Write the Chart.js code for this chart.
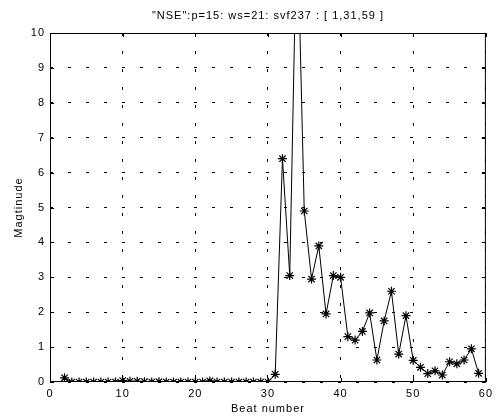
<!DOCTYPE html>
<html>
<head>
<meta charset="utf-8">
<script src="https://cdn.jsdelivr.net/npm/chart.js@4.4.1/dist/chart.umd.min.js"></script>
<style>
  html, body { margin: 0; padding: 0; background: #fff; }
  #wrap { width: 498px; height: 418px; }
</style>
</head>
<body>
<div id="wrap"><canvas id="c"></canvas></div>
<script>
const beats = [2,3,4,5,6,7,8,9,10,11,12,13,14,15,16,17,18,19,20,21,22,23,24,25,26,27,28,29,30,
  31,32,33,34,35,36,37,38,39,40,41,42,43,44,45,46,47,48,49,50,51,52,53,54,55,56,57,58,59];
const magnitude = [0.12,0,0,0,0,0,0,0,0.04,0.02,0.02,0.01,0,0.01,0,0,0,0,0,0,0.03,0,0,0,0,0,0,0,0,
  0.22,6.4,3.05,13.5,4.9,2.95,3.9,1.95,3.05,3.0,1.3,1.2,1.45,1.98,0.63,1.75,2.6,0.8,1.9,0.62,0.42,0.24,0.32,0.2,0.58,0.52,0.63,0.95,0.25];
const xTicks = [0,10,20,30,40,50,60];
const yTicks = [0,1,2,3,4,5,6,7,8,9,10];
const titleText = '"NSE":p=15: ws=21: svf237 : [ 1,31,59 ]';

const FONT = "'Liberation Sans', Arial, sans-serif";

// matlab text is a bit spaced out
const spacingPlugin = {
  id: "spacing",
  beforeUpdate(chart) { chart.ctx.letterSpacing = "1px"; },
  beforeDraw(chart) { chart.ctx.letterSpacing = "1px"; }
};

// box around the plot + inward tick marks + title centred over the axes
const boxPlugin = {
  id: "box",
  afterDraw(chart) {
    const {ctx, chartArea: a, scales} = chart;
    ctx.save();
    ctx.strokeStyle = "#000";
    ctx.lineWidth = 1;
    ctx.setLineDash([]);
    ctx.strokeRect(a.left + 0.5, a.top + 0.5, a.right - a.left - 1, a.bottom - a.top - 1);
    ctx.beginPath();
    xTicks.forEach(v => {
      const px = Math.round(scales.x.getPixelForValue(v)) + 0.5;
      ctx.moveTo(px, a.bottom); ctx.lineTo(px, a.bottom - 4);
      ctx.moveTo(px, a.top); ctx.lineTo(px, a.top + 4);
    });
    yTicks.forEach(v => {
      const py = Math.round(scales.y.getPixelForValue(v)) + 0.5;
      ctx.moveTo(a.left, py); ctx.lineTo(a.left + 4, py);
      ctx.moveTo(a.right, py); ctx.lineTo(a.right - 4, py);
    });
    ctx.stroke();

    ctx.letterSpacing = "1px";
    ctx.fillStyle = "#000";
    ctx.font = "11px " + FONT;
    ctx.textAlign = "center";
    ctx.textBaseline = "middle";
    ctx.fillText(titleText, (a.left + a.right) / 2, 16);
    ctx.restore();
  }
};

new Chart(document.getElementById("c"), {
  type: "line",
  data: {
    datasets: [{
      data: beats.map((b, i) => ({x: b, y: magnitude[i]})),
      borderColor: "#000",
      borderWidth: 1,
      pointStyle: "star",
      pointRadius: 4.5,
      pointBorderColor: "#000",
      pointBorderWidth: 1.2,
      pointBackgroundColor: "#000",
      tension: 0,
      clip: 0
    }]
  },
  options: {
    responsive: true,
    maintainAspectRatio: false,
    animation: false,
    layout: {padding: {left: 0, right: 9, top: 33, bottom: 0}},
    plugins: {
      legend: {display: false},
      tooltip: {enabled: false},
      title: {display: false}
    },
    scales: {
      x: {
        type: "linear", min: 0, max: 60,
        afterBuildTicks: s => { s.ticks = xTicks.map(v => ({value: v})); },
        afterFit: s => { s.height = 36; },
        grid: {color: "#000", lineWidth: 1, drawTicks: false},
        border: {display: false, dash: [3, 15]},
        ticks: {color: "#000", padding: 5, font: {family: FONT, size: 11}},
        title: {display: true, text: "Beat number", color: "#000", font: {family: FONT, size: 11}, padding: {top: 0, bottom: 2}}
      },
      y: {
        type: "linear", min: 0, max: 10,
        afterBuildTicks: s => { s.ticks = yTicks.map(v => ({value: v})); },
        afterFit: s => { s.width = 50; },
        grid: {color: "#000", lineWidth: 1, drawTicks: false},
        border: {display: false, dash: [3, 15]},
        ticks: {color: "#000", padding: 5, font: {family: FONT, size: 11}},
        title: {display: true, text: "Magtinude", color: "#000", font: {family: FONT, size: 11}, padding: {top: 12, bottom: 0}}
      }
    }
  },
  plugins: [spacingPlugin, boxPlugin]
});
</script>
</body>
</html>
